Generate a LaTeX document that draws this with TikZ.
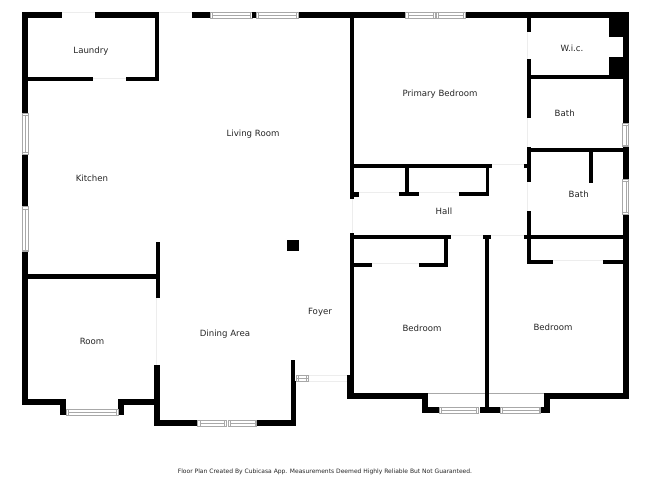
\documentclass[tikz,border=0pt]{standalone}
\usepackage{fontspec}
\setmainfont{DejaVu Sans}
\definecolor{plangray}{gray}{0.66}
\definecolor{doorgray}{gray}{0.93}
\tikzset{x=1pt, y=-1pt,
 wall/.style={fill=black, draw=none},
 pane/.style={draw=plangray, fill=white, line width=0.5pt},
 doorline/.style={draw=doorgray, line width=0.6pt},
 roomlabel/.style={font=\fontsize{8.6}{10}\selectfont, text=black!85, inner sep=0pt, text height=7pt, text depth=0pt},
 footnote/.style={font=\fontsize{6}{8}\selectfont, text=black!85, inner sep=0pt, text height=5pt, text depth=0pt}}

\begin{document}
\begin{tikzpicture}
 \useasboundingbox (0,0) rectangle (650,488);
 \fill[white] (0,0) rectangle (650,488);
 % door openings
 \foreach \xa/\ya/\xb/\yb in {62/12.5/95/12.5, 158.7/12.5/192/12.5, 93/78/125.7/78,
  156.5/298/156.5/364.7, 527/32.3/527/59.3, 527/118/527/146.7, 527/182/527/211,
  491.7/164/524/164, 359/192.5/399/192.5, 419.3/192.5/459.3/192.5, 352/199/352/232.7,
  451/235/482.7/235, 491/235/524/235, 371.7/263/419.3/263, 553/260.5/603.3/260.5,
  308.3/375.5/347.3/375.5, 308.3/381.5/347.3/381.5}
 \draw[doorline] (\xa,\ya) -- (\xb,\yb);
 \draw[draw=plangray, line width=0.6pt] (428.3,393.6) -- (544,393.6);
 % walls, outer
 \foreach \xa/\ya/\xb/\yb in {22.3/12.3/62/18.3, 95/12.3/158.7/18.3, 192/12.3/210.3/18.3,
  298.3/12.3/405.7/18.3, 465/12.3/628.7/18.3,
  22.3/12.3/28.3/113, 22.3/154/28.3/206.7, 22.3/251.7/28.3/404.7,
  22.3/399/66.3/404.7, 60.3/399/66.3/415, 118.3/399/124/415, 118.3/399/160.3/404.7,
  154.3/364.7/160.3/426, 154.3/420/197.7/426, 256.7/420/296/426,
  290.7/360/295/426, 290.7/381/296/426,
  622.7/12.3/628.7/123, 622.7/146.7/628.7/179.3, 622.7/214/628.7/399.3,
  347.3/375/354/399.3, 347.3/393.3/428.3/399.3, 422.3/393.3/428.3/413.3,
  422.3/407/439.3/413.3, 480/407/500/413.3, 541/407/550/413.3,
  544/393.3/550/413.3, 544/393.3/628.7/399.3}
 \fill[wall] (\xa,\ya) rectangle (\xb,\yb);
 % walls, inner
 \foreach \xa/\ya/\xb/\yb in {154.7/12.3/158.7/81.3, 28/77.3/93/81.3, 125.7/77.3/158.7/81.3,
  28/274.3/158/278.7, 156/242/160.3/298, 286.7/240/299.3/251,
  350/18/354/199, 350/192.3/359/197, 350/232.7/354/393.3,
  354/163.7/491.7/168, 524/163.7/527/168, 404.7/168/408.7/192.3, 399/192.3/419.3/196.3,
  459.3/192.3/489/196.3, 485.7/168/489/196.3,
  526.7/18/530.7/32.3, 526.7/59.3/530.7/118, 526.7/146.7/530.7/182, 526.7/211/530.7/264.3,
  530/74.7/622.7/78.7, 530/148.3/622.7/152.3, 588.7/152/592.7/183,
  608.7/18/628/36.7, 608.7/57/622.7/75,
  354/235/451/239.3, 482.7/235/491/239.3, 524/235/622.7/239.3, 485/239/489/407,
  444/239/447.7/266.7, 354/262.7/371.7/266.7, 419.3/262.7/447.7/266.7,
  526.7/260.3/553/264.3, 603.3/260.3/622.7/264.3}
 \fill[wall] (\xa,\ya) rectangle (\xb,\yb);
 % windows, across x
 \foreach \xa/\xb/\ya/\yb in {210.3/252/12.3/18.3, 256/298.3/12.3/18.3, 405.7/435/12.3/18.3,
  436.5/465/12.3/18.3, 66.3/117.8/409/415, 197.7/226.5/420/426, 228/256.7/420/426,
  439.3/478.3/407/413.3, 500/540.7/407/413.3}{
 \draw[pane] (\xa,\ya) rectangle (\xb,\yb);
 \draw[plangray, line width=0.4pt] ({\xa+2},{\ya+3}) -- ({\xb-2},{\ya+3}) ({\xa+2},\ya) -- ({\xa+2},\yb) ({\xb-2},\ya) -- ({\xb-2},\yb);}
 \fill[wall] (252,12.3) rectangle (256,18.3);
 % windows, across y
 \foreach \ya/\yb/\xa/\xb in {113/154/22.3/28.3, 206.7/251.7/22.3/28.3, 123/146.7/622.7/628.7,
  179.3/214/622.7/628.7}{
 \draw[pane] (\xa,\ya) rectangle (\xb,\yb);
 \draw[plangray, line width=0.4pt] ({\xa+3},{\ya+2}) -- ({\xa+3},{\yb-2}) (\xa,{\ya+2}) -- (\xb,{\ya+2}) (\xa,{\yb-2}) -- (\xb,{\yb-2});}
 % window at the entry
 \draw[pane] (296,375) rectangle (308.3,381.7);
 \draw[plangray, line width=0.4pt] (296,378.3) -- (308.3,378.3) (298.5,375) -- (298.5,381.7) (306,375) -- (306,381.7);
 % rooms
 \node[roomlabel] (laundry) at (91,50) {Laundry};
 \node[roomlabel] (living) at (253,132.5) {Living Room};
 \node[roomlabel] (kitchen) at (92,178) {Kitchen};
 \node[roomlabel] (room) at (92,341) {Room};
 \node[roomlabel] (dining) at (225,333) {Dining Area};
 \node[roomlabel] (foyer) at (320,311) {Foyer};
 \node[roomlabel] (primary) at (440,93) {Primary Bedroom};
 \node[roomlabel] (wic) at (572,48) {W.i.c.};
 \node[roomlabel] (bathone) at (564.7,113) {Bath};
 \node[roomlabel] (bathtwo) at (578.7,194) {Bath};
 \node[roomlabel] (hall) at (444,211) {Hall};
 \node[roomlabel] (bedone) at (422,328) {Bedroom};
 \node[roomlabel] (bedtwo) at (553,327) {Bedroom};
 \node[footnote] (credit) at (325,470.5) {Floor Plan Created By Cubicasa App. Measurements Deemed Highly Reliable But Not Guaranteed.};
\end{tikzpicture}
\end{document}
